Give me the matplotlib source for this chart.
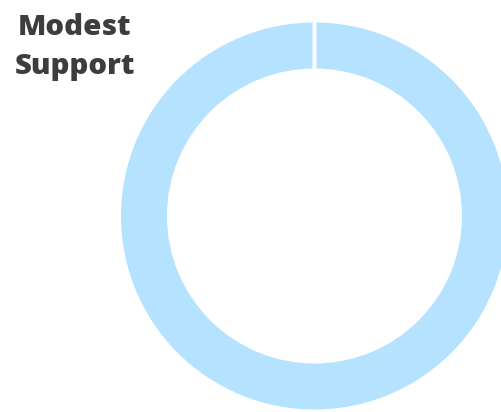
import matplotlib
matplotlib.use("Agg")
import matplotlib.pyplot as plt

title_lines = ["Modest", "Support"]
labels = ["Modest Support", "Other"]
shares = [100.0, 0.0]

ring_color = "#b5e2ff"
text_color = "#3d3d3d"

fig = plt.figure(figsize=(5.01, 4.12), dpi=100)
# donut centred at (314.5, 216) px, outer radius ~193.5 px
ax = fig.add_axes([121 / 501, 2.5 / 412, 387 / 501, 387 / 412])

gap_px = 4
lw_pt = gap_px * 72 / 100
wedges, _ = ax.pie(shares, labels=None, startangle=90, counterclock=False,
                   radius=1.0, colors=[ring_color, ring_color],
                   wedgeprops=dict(width=46 / 193.5, linewidth=0))
wedges[1].set_edgecolor("white")
wedges[1].set_linewidth(lw_pt)
wedges[1].set_zorder(5)
ax.set_xlim(-1, 1)
ax.set_ylim(-1, 1)
ax.set_aspect("equal")
ax.axis("off")

# title lines, baselines at ~35 px and ~74 px from the top
for line, base in zip(title_lines, [35, 74]):
    fig.text(75 / 501, 1 - base / 412, line, ha="center", va="baseline",
             fontsize=21.2, fontweight=800, family="Open Sans",
             color=text_color)

fig.savefig("out.png", dpi=100)
